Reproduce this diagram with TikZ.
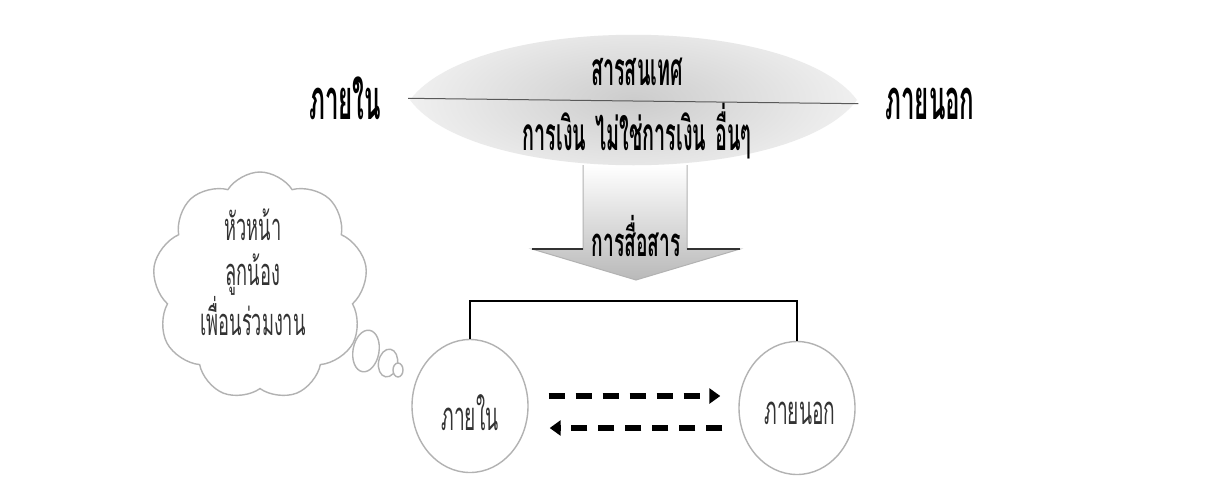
\documentclass[tikz,border=0pt]{standalone}
\usepackage{fontspec}
\usetikzlibrary{shapes.symbols,shapes.geometric,arrows.meta,calc}
\newfontfamily\thaiN[Script=Thai,FakeStretch=0.43]{Loma}
\newfontfamily\thaiM[Script=Thai,FakeStretch=0.48]{Loma}
\tikzset{
  biglab/.style={font=\thaiN\bfseries\fontsize{56}{60}\selectfont,inner sep=2pt},
  midlab/.style={font=\thaiN\bfseries\fontsize{46}{50}\selectfont,inner sep=0pt},
  arrlab/.style={font=\thaiM\bfseries\fontsize{40}{44}\selectfont,inner sep=0pt},
  thinlab/.style={font=\thaiM\fontsize{38}{45}\selectfont,align=center,inner sep=0pt,text=black!80},
  circlab/.style={font=\thaiM\fontsize{40}{44}\selectfont,inner sep=0pt,text=black!80},
  outl/.style={draw=gray!60,line width=1.4pt},
  circ/.style={outl,ellipse,minimum width=116pt,minimum height=133pt,inner sep=0pt,fill=white},
  bubble/.style={outl,ellipse,inner sep=0pt,fill=white},
  dasharrow/.style={line width=6pt,dash pattern=on 16pt off 11pt,-{Triangle[length=11pt,width=15pt]}},
}
\begin{document}
\begin{tikzpicture}[x=1pt,y=-1pt]
\useasboundingbox (0,0) rectangle (1231,477);
\fill[white] (0,0) rectangle (1231,477);
% communication arrow
\shade[top color=white,bottom color=gray!55]
  (583,165) -- (583,249) -- (532,249) -- (636,280) -- (740,249) -- (687,249) -- (687,165) -- cycle;
\draw[draw=gray!60,line width=1pt]
  (583,165) -- (583,249) -- (532,249) -- (636,280) -- (740,249) -- (687,249) -- (687,165);
\draw[black!80,line width=1.2pt] (583,249) -- (532,249) (740,249) -- (687,249);
% lens
\shade[inner color=gray!40,outer color=gray!12]
  (410,100) .. controls (475,13) and (792,13) .. (857,100)
  .. controls (792,187) and (475,187) .. (410,100) -- cycle;
% labels
\node[biglab] (inL) at (345,98) {ภายใน};
\node[biglab] (outR) at (930,104) {ภายนอก};
\draw[gray!70!black,line width=1pt,shorten <=25pt,shorten >=25pt] (inL.east) -- (outR.west);
\node[midlab] (info) at (637,72) {สารสนเทศ};
\node[midlab] (kinds) at (637,131) {การเงิน\hspace{0.2em}ไม่ใช่การเงิน\hspace{0.2em}อื่นๆ};
\node[arrlab] (comm) at (636,236) {การสื่อสาร};
% cloud
\node[cloud,outl,cloud puffs=9,cloud puff arc=115,cloud ignores aspect,
  minimum width=215pt,minimum height=228pt,fill=white] (cl) at (260,286) {};
\node[thinlab] (clt) at (253,272) {หัวหน้า\\ลูกน้อง\\เพื่อนร่วมงาน};
\node[bubble,minimum width=26pt,minimum height=42pt,rotate=-10] (b1) at (366,351) {};
\node[bubble,minimum width=19pt,minimum height=28pt,rotate=-10] (b2) at (388,363) {};
\node[bubble,minimum width=10pt,minimum height=14pt] (b3) at (398,370) {};
% circles
\node[circ] (lc) at (470,406) {};
\node[circ] (rc) at (797,408) {};
\node[circlab] (lct) at (470,413) {ภายใน};
\node[circlab] (rct) at (800,413) {ภายนอก};
\coordinate (topbar) at (600,301);
\draw[black,line width=2pt] (lc.north) |- (topbar) -| (rc.north);
% dashed arrows
\draw[dasharrow] ($(lc.east)+(20,-10)$) -- ($(rc.west)+(-18,-12)$);
\draw[dasharrow] ($(rc.west)+(-16,20)$) -- ($(lc.east)+(21,22)$);
\end{tikzpicture}
\end{document}
